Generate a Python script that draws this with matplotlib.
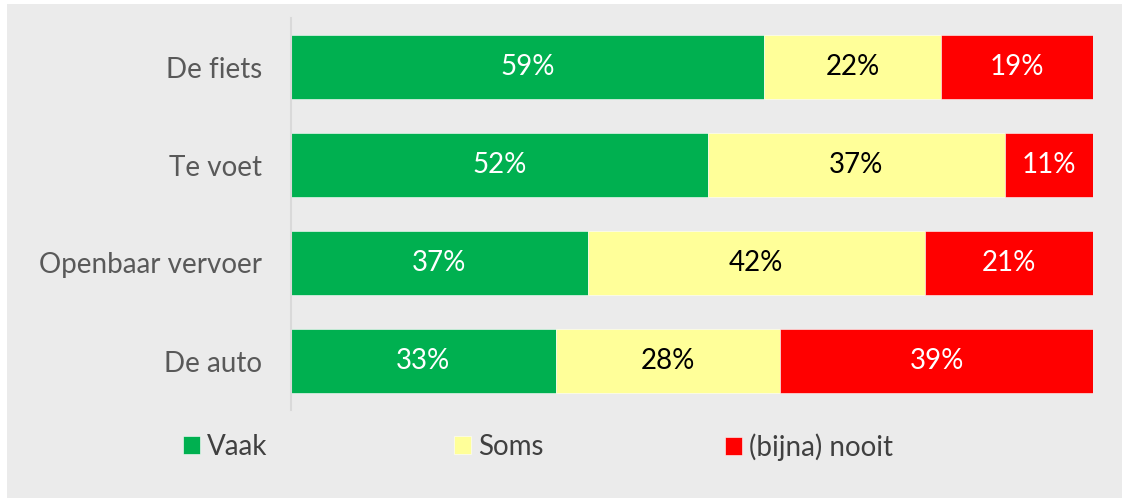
import numpy as np
import matplotlib.pyplot as plt
from matplotlib.patches import Rectangle

categories = ['De fiets', 'Te voet', 'Openbaar vervoer', 'De auto']
series = ['Vaak', 'Soms', '(bijna) nooit']
vaak = [59, 52, 37, 33]
soms = [22, 37, 42, 28]
nooit = [19, 11, 21, 39]
colors = ['#00B050', '#FFFF99', '#FF0000']
text_colors = ['white', 'black', 'white']

plt.rcParams['font.family'] = ['Lato', 'DejaVu Sans']
FS = 20

fig = plt.figure(figsize=(11.22, 4.98), dpi=100)
fig.patch.set_facecolor('white')
fig.patches.append(Rectangle((7 / 1122, 0), 1, 494 / 498, transform=fig.transFigure,
                             facecolor='#EBEBEB', edgecolor='none', zorder=-10))

ax = fig.add_axes([291 / 1122, 1 - 410 / 498, (1093 - 291) / 1122, (410 - 18) / 498])
ax.set_facecolor('none')

y = np.arange(len(categories))
left = np.zeros(len(categories))
handles = []
for vals, name, c, tc in zip([vaak, soms, nooit], series, colors, text_colors):
    vals = np.array(vals)
    bars = ax.barh(y, vals, left=left, height=0.66, color=c, label=name,
                   edgecolor='white', linewidth=0.4)
    handles.append(bars)
    for yi, l, v in zip(y, left, vals):
        ax.text(l + v / 2, yi, f'{v}%', ha='center', va='center',
                color=tc, fontsize=FS)
    left += vals

ax.set_xlim(0, 100)
ax.set_ylim(3.5, -0.5)
ax.set_yticks(y)
ax.set_yticklabels(categories, fontsize=FS, color='#595959')
ax.tick_params(axis='y', length=0, pad=21)
ax.set_xticks([])
for s in ['top', 'right', 'bottom']:
    ax.spines[s].set_visible(False)
ax.spines['left'].set_color('#D9D9D9')
ax.spines['left'].set_linewidth(1.5)

# one legend entry per slot, like the original
for h, name, x in zip(handles, series, [183, 454, 725]):
    fig.legend(handles=[h], labels=[name], loc='center left',
               bbox_to_anchor=(x / 1122, 1 - 447 / 498), frameon=False,
               fontsize=FS, handlelength=0.6, handleheight=0.6,
               handletextpad=0.25, borderpad=0, borderaxespad=0,
               labelcolor='#404040')

fig.savefig('out.png', dpi=100)
